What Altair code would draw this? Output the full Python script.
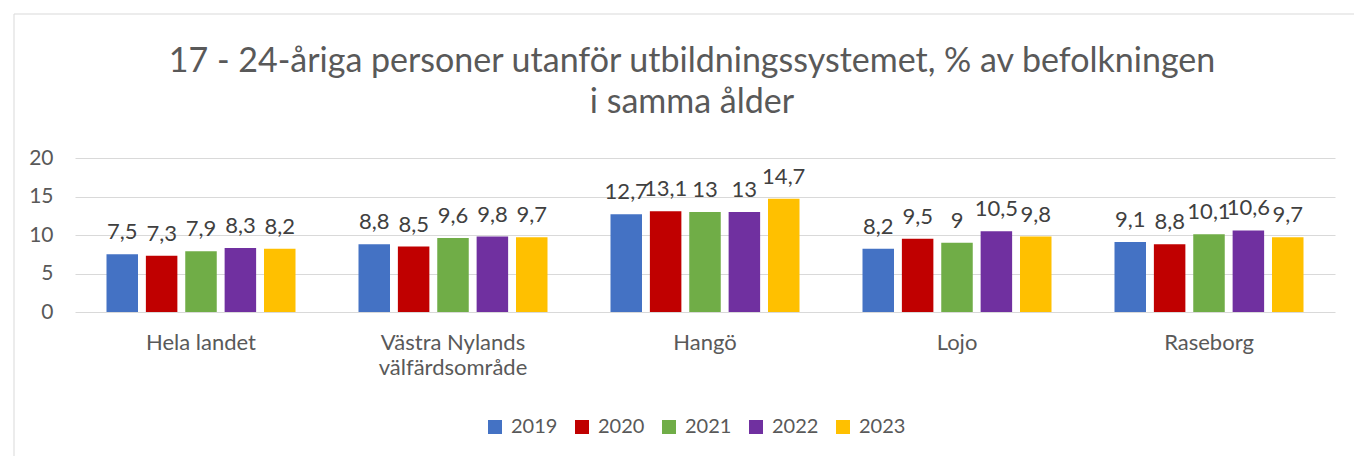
import altair as alt
import pandas as pd

categories = ["Hela landet", "Västra Nylands välfärdsområde", "Hangö", "Lojo", "Raseborg"]
years = ["2019", "2020", "2021", "2022", "2023"]
values = {
    "2019": [7.5, 8.8, 12.7, 8.2, 9.1],
    "2020": [7.3, 8.5, 13.1, 9.5, 8.8],
    "2021": [7.9, 9.6, 13.0, 9.0, 10.1],
    "2022": [8.3, 9.8, 13.0, 10.5, 10.6],
    "2023": [8.2, 9.7, 14.7, 9.8, 9.7],
}
colors = ["#4472C4", "#C00000", "#70AD47", "#7030A0", "#FFC000"]

rows = []
for y in years:
    for c, v in zip(categories, values[y]):
        lab = ("%g" % v).replace(".", ",")
        rows.append({"cat": c, "year": y, "value": v, "label": lab})
df = pd.DataFrame(rows)

FONT = "Lato"

x = alt.X("cat:N", sort=categories, title=None,
          scale=alt.Scale(paddingInner=0.25, paddingOuter=0.125),
          axis=alt.Axis(labelAngle=0, labelFontSize=22, labelColor="#595959", grid=False,
                        labelPadding=20, ticks=False, domain=False,
                        labelExpr="datum.value == 'Västra Nylands välfärdsområde' ? ['Västra Nylands', 'välfärdsområde'] : datum.value",
                        labelLineHeight=25, labelFont=FONT))
xo = alt.XOffset("year:N", sort=years, scale=alt.Scale(paddingInner=0.2, paddingOuter=0))
yenc = alt.Y("value:Q", title=None,
             scale=alt.Scale(domain=[0, 20]),
             axis=alt.Axis(values=[0, 5, 10, 15, 20], labelFontSize=21, labelColor="#595959",
                           ticks=False, domain=False, grid=True, gridColor="#d9d9d9", labelPadding=22,
                           labelOverlap=False, labelFont=FONT))

bars = alt.Chart(df).mark_bar().encode(
    x=x, xOffset=xo, y=yenc,
    color=alt.Color("year:N", sort=years, title=None,
                    scale=alt.Scale(domain=years, range=colors),
                    legend=alt.Legend(orient="none", direction="horizontal", legendX=410, legendY=259,
                                      symbolType="square", symbolSize=196, symbolStrokeWidth=0,
                                      labelFontSize=20, labelColor="#595959", labelFont=FONT,
                                      columnPadding=14, labelOffset=6)),
)

texts = alt.Chart(df).mark_text(baseline="bottom", dy=-10, fontSize=22, color="#404040", font=FONT).encode(
    x=x, xOffset=xo, y=yenc, text="label:N"
)

one = pd.DataFrame({"a": [0]})
frame_left = alt.Chart(one).mark_rule(color="#d9d9d9", strokeWidth=1).encode(
    x=alt.value(-61), y=alt.value(-144), y2=alt.value(320)
)
frame_top = alt.Chart(one).mark_rule(color="#d9d9d9", strokeWidth=1).encode(
    x=alt.value(-61), x2=alt.value(1300), y=alt.value(-144)
)

chart = alt.layer(frame_left, frame_top, bars, texts).properties(
    width=1260, height=154,
    background="white",
    autosize=alt.AutoSizeParams(type="none"),
    padding={"left": 67, "right": 19, "top": 150, "bottom": 144},
    title=alt.TitleParams(["17 - 24-åriga personer utanför utbildningssystemet, % av befolkningen",
                           "i samma ålder"],
                          fontSize=34, font=FONT, color="#595959", fontWeight="normal",
                          lineHeight=41, offset=-106, dx=-13, anchor="middle"),
).configure_view(stroke=None).configure_axisX(grid=False)

chart.save("out.html", embed_options={"renderer": "svg", "actions": False})
